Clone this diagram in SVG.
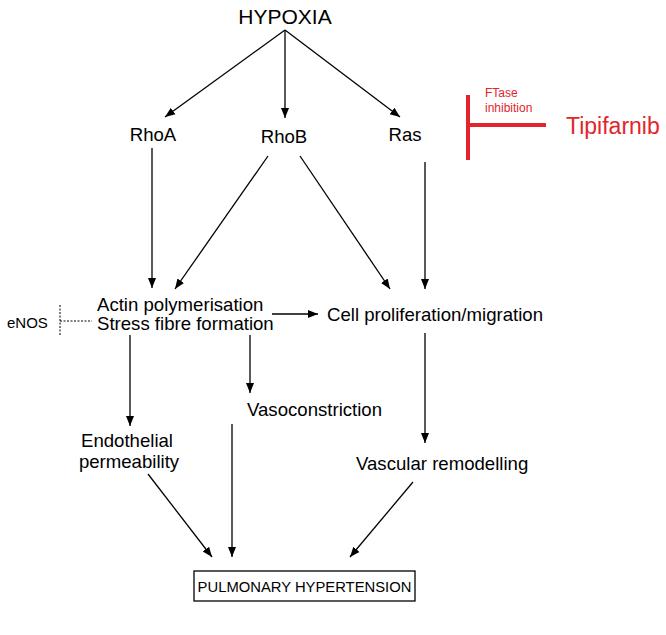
<svg xmlns="http://www.w3.org/2000/svg" width="666" height="635" viewBox="0 0 666 635">
<style>
text{font-family:"Liberation Sans",Arial,sans-serif;fill:#000}
.n{font-size:18.6px}
.c{stroke:#000;stroke-width:1.3;fill:none;marker-end:url(#ah)}
.red{fill:#e2252b}
</style>
<defs>
<marker id="ah" viewBox="0 0 10 10" refX="10" refY="5" markerWidth="10" markerHeight="10" markerUnits="userSpaceOnUse" orient="auto">
<path d="M0,1 L10,5 L0,9 z" fill="#000"/>
</marker>
</defs>
<rect width="666" height="635" fill="#fff"/>
<g id="connectors">
<line class="c" x1="285" y1="30" x2="165" y2="117"/>
<line class="c" x1="285" y1="30" x2="285" y2="118"/>
<line class="c" x1="285" y1="30" x2="400" y2="117"/>
<line class="c" x1="152" y1="148" x2="152" y2="288"/>
<line class="c" x1="268" y1="156" x2="175" y2="289"/>
<line class="c" x1="300" y1="156" x2="390" y2="289"/>
<line class="c" x1="425" y1="162" x2="425" y2="289"/>
<line class="c" x1="272" y1="314" x2="318" y2="314"/>
<line class="c" x1="130" y1="335" x2="130" y2="426"/>
<line class="c" x1="250" y1="335" x2="250" y2="393"/>
<line class="c" x1="425" y1="333" x2="425" y2="443"/>
<line class="c" x1="148" y1="474" x2="212" y2="557"/>
<line class="c" x1="232" y1="424" x2="232" y2="557"/>
<line class="c" x1="413" y1="482" x2="350" y2="557"/>
<line x1="60" y1="305" x2="60" y2="336" stroke="#000" stroke-width="1" stroke-dasharray="2,1.5"/>
<line x1="60" y1="321" x2="92" y2="321" stroke="#000" stroke-width="1" stroke-dasharray="2,1.5"/>
<line x1="468" y1="95" x2="468" y2="160" stroke="#e2252b" stroke-width="4"/>
<line x1="468" y1="125" x2="546" y2="125" stroke="#e2252b" stroke-width="4"/>
</g>
<g id="hypoxia"><text x="285" y="24" font-size="21" text-anchor="middle">HYPOXIA</text></g>
<g id="rhoa"><text class="n" x="153" y="141" text-anchor="middle">RhoA</text></g>
<g id="rhob"><text class="n" x="284" y="143" text-anchor="middle">RhoB</text></g>
<g id="ras"><text class="n" x="405" y="141" text-anchor="middle">Ras</text></g>
<g id="ftase"><text class="red" x="485" y="97" font-size="12">FTase</text><text class="red" x="485" y="112" font-size="12">inhibition</text></g>
<g id="tipifarnib"><text class="red" x="566" y="134" font-size="23">Tipifarnib</text></g>
<g id="actin"><text class="n" x="97" y="311">Actin polymerisation</text><text class="n" x="97" y="330">Stress fibre formation</text></g>
<g id="enos"><text x="7" y="328" font-size="15">eNOS</text></g>
<g id="cell"><text class="n" x="327" y="321">Cell proliferation/migration</text></g>
<g id="endothelial"><text class="n" x="127" y="447" text-anchor="middle">Endothelial</text><text class="n" x="129" y="468" text-anchor="middle">permeability</text></g>
<g id="vasoconstriction"><text class="n" x="247" y="416">Vasoconstriction</text></g>
<g id="vascular"><text class="n" x="356" y="470">Vascular remodelling</text></g>
<g id="ph"><rect x="194" y="571" width="221" height="30" fill="#fff" stroke="#000" stroke-width="1.3"/><text x="304.5" y="592" font-size="14.8" text-anchor="middle">PULMONARY HYPERTENSION</text></g>
</svg>
